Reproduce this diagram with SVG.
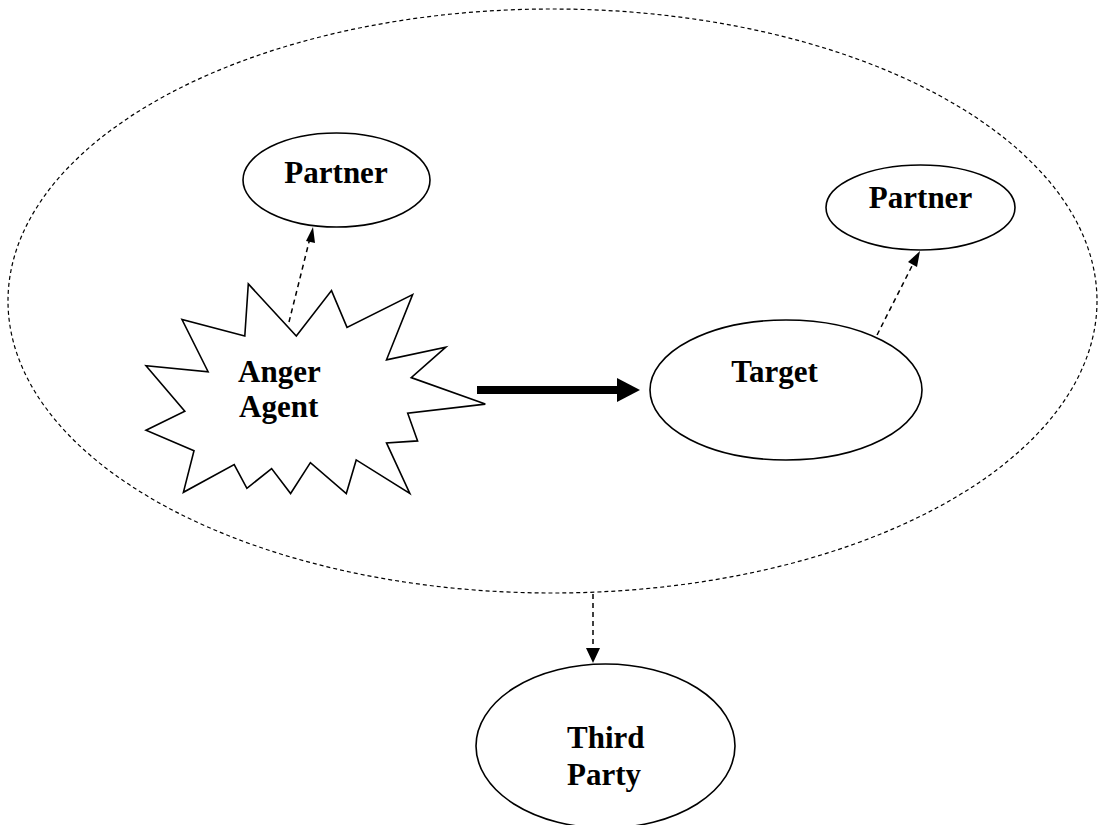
<svg xmlns="http://www.w3.org/2000/svg" width="1106" height="825" viewBox="0 0 1106 825">
<style>
.node{fill:#fff;stroke:#000;stroke-width:1.6}
.lbl{font-family:"Liberation Serif","Times New Roman",serif;font-weight:bold;font-size:31px;fill:#000}
.mid{text-anchor:middle}
.dash{fill:none;stroke:#000;stroke-width:1.5;stroke-dasharray:5 4}
</style>
<defs>
<marker id="ah" viewBox="0 0 10 10" refX="10" refY="5" markerWidth="10" markerHeight="10" markerUnits="userSpaceOnUse" orient="auto">
<path d="M0,0 L10,5 L0,10 Z" fill="#000"/>
</marker>
</defs>
<g id="group-boundary">
<ellipse cx="552.5" cy="301" rx="544.5" ry="292" fill="none" stroke="#000" stroke-width="1.2" stroke-dasharray="4 3"/>
</g>
<g id="connectors">
<line class="dash" x1="289" y1="322" x2="310" y2="238"/>
<path d="M306,241 L313,227 L315,243 Z" fill="#000"/>
<line class="dash" x1="873" y1="343" x2="914" y2="262"/>
<path d="M908,262 L920,251 L917,267 Z" fill="#000"/>
<line class="dash" x1="593" y1="594" x2="593" y2="650"/>
<path d="M586,648 L600,648 L593,663 Z" fill="#000"/>
<rect x="477" y="386" width="142" height="8" fill="#000"/>
<path d="M617,378 L640,390 L617,402 Z" fill="#000"/>
</g>
<g id="anger-agent">
<polygon class="node" points="248.3,283.9 296.3,336.1 331.5,290.6 347,327.4 412.6,294.6 386.5,359.8 445.8,347.2 411.2,377.6 485.3,404.1 407.7,413.2 417.6,440.9 386.5,442.9 409.8,493.5 356.2,459.9 346.3,493.5 310.4,462.6 290.6,493.5 271.6,468.6 246.9,488.3 234.2,464.6 183.4,492.3 194,450.8 146,430.2 184.8,411.2 146,365.8 208.1,371.7 182,319.5 244.8,336.1"/>
<text class="lbl" x="238" y="382">Anger</text>
<text class="lbl" x="239" y="417">Agent</text>
</g>
<g id="partner-1">
<ellipse class="node" cx="336.5" cy="180" rx="93.5" ry="47"/>
<text class="lbl mid" x="336" y="183">Partner</text>
</g>
<g id="target">
<ellipse class="node" cx="786" cy="390" rx="136" ry="70"/>
<text class="lbl mid" x="774.5" y="382">Target</text>
</g>
<g id="partner-2">
<ellipse class="node" cx="920.5" cy="207.5" rx="94.5" ry="42.5"/>
<text class="lbl mid" x="920.5" y="208">Partner</text>
</g>
<g id="third-party">
<ellipse class="node" cx="605.5" cy="746" rx="129.5" ry="82"/>
<text class="lbl" x="567" y="748">Third</text>
<text class="lbl" x="567" y="785">Party</text>
</g>
</svg>
